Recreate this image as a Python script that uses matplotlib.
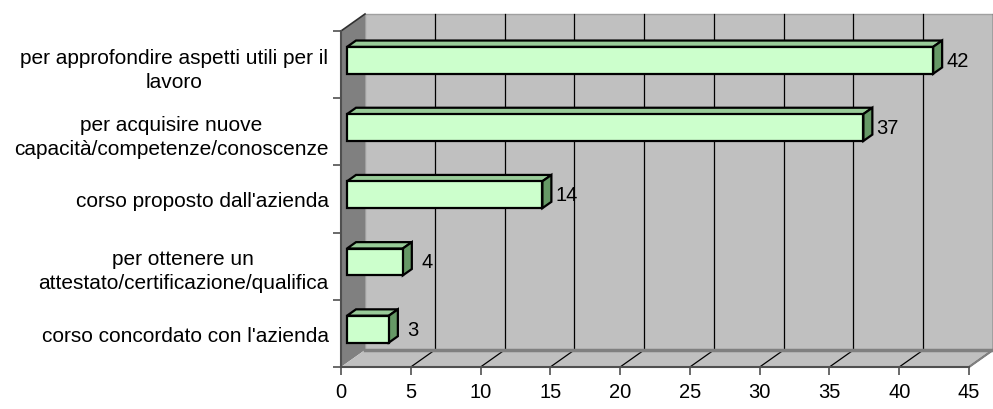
import matplotlib
matplotlib.use("Agg")
import matplotlib.pyplot as plt
from matplotlib.patches import Polygon

plt.rcParams['font.family'] = ['Liberation Sans', 'DejaVu Sans']

# data (bottom to top)
categories = ["corso concordato con l'azienda",
              "per ottenere un\nattestato/certificazione/qualifica",
              "corso proposto dall'azienda",
              "per acquisire nuove\ncapacità/competenze/conoscenze",
              "per approfondire aspetti utili per il\nlavoro"]
values = [3, 4, 14, 37, 42]
xticks = [0, 5, 10, 15, 20, 25, 30, 35, 40, 45]

# fake 3d depth offsets in data units
DX = 1.72
DY = 0.253
d0, d1 = 0.25, 0.625
half = 0.2
xmax = 45
n = len(categories)

fig = plt.figure(figsize=(9.93, 4.10), dpi=100)
ax = fig.add_axes([341/993, 42/410, 628/993, 336/410])
ax.set_xlim(0, xmax)
ax.set_ylim(0, n)
ax.patch.set_visible(False)

def poly(pts, fc, ec='none', lw=0, z=1):
    ax.add_patch(Polygon(pts, closed=True, facecolor=fc, edgecolor=ec,
                         linewidth=lw, clip_on=False, zorder=z, joinstyle='miter'))

# walls and floor
poly([(DX, DY), (xmax + DX, DY), (xmax + DX, n + DY), (DX, n + DY)], '#c0c0c0', '#a0a0a0', 1, 0.5)
poly([(0, 0), (DX, DY), (DX, n + DY), (0, n)], '#808080', z=0.6)
poly([(0, 0), (xmax, 0), (xmax + DX, DY), (DX, DY)], '#c0c0c0', z=0.6)
ax.plot([0, DX], [n, n + DY], color='#303030', lw=1.2, clip_on=False, zorder=0.8)
ax.plot([xmax, xmax + DX], [0, DY], color='#808080', lw=1.5, clip_on=False, zorder=0.8)

for t in xticks[1:]:
    ax.plot([t + DX, t + DX], [DY, n + DY], color='black', lw=0.9, clip_on=False, zorder=0.7)
    ax.plot([t, t + DX], [0, DY], color='black', lw=0.9, clip_on=False, zorder=0.7)
ax.plot([DX, xmax + DX], [DY, DY], color='#808080', lw=2.5, clip_on=False, zorder=0.75)

# bars
for i, v in enumerate(values):
    c = i + 0.5
    y0, y1 = c - half, c + half
    front = [(d0 * DX, y0 + d0 * DY), (v + d0 * DX, y0 + d0 * DY),
             (v + d0 * DX, y1 + d0 * DY), (d0 * DX, y1 + d0 * DY)]
    top = [(d0 * DX, y1 + d0 * DY), (v + d0 * DX, y1 + d0 * DY),
           (v + d1 * DX, y1 + d1 * DY), (d1 * DX, y1 + d1 * DY)]
    side = [(v + d0 * DX, y0 + d0 * DY), (v + d1 * DX, y0 + d1 * DY),
            (v + d1 * DX, y1 + d1 * DY), (v + d0 * DX, y1 + d0 * DY)]
    poly(top, '#99cc99', 'black', 1.6, 2)
    poly(side, '#669966', 'black', 1.6, 2)
    poly(front, '#ccffcc', 'black', 1.6, 2.1)
    ax.annotate(str(v), (v + d1 * DX, c + d0 * DY), xytext=(3 if v > 10 else 7, 0),
                textcoords='offset points', ha='left', va='center',
                fontsize=14.5, zorder=3, annotation_clip=False)

# axes, ticks and labels
ax.set_xticks(xticks)
ax.set_xticklabels([str(t) for t in xticks], fontsize=14.5)
ax.set_yticks(range(n + 1))
ax.set_yticklabels([])
ax.set_yticks([i + 0.5 for i in range(n)], minor=True)
ax.set_yticklabels(categories, minor=True, fontsize=15, ha='right',
                   multialignment='center', linespacing=1.35)
ax.tick_params(axis='y', which='minor', length=0, pad=9)
ax.tick_params(axis='both', which='major', length=6, width=1.2, color='#505050', direction='out')
ax.tick_params(axis='x', pad=5)
for s in ['top', 'right']:
    ax.spines[s].set_visible(False)
for s in ['bottom', 'left']:
    ax.spines[s].set_color('#505050')
    ax.spines[s].set_linewidth(1.5)
    ax.spines[s].set_zorder(1)

fig.savefig("out.png", dpi=100)
